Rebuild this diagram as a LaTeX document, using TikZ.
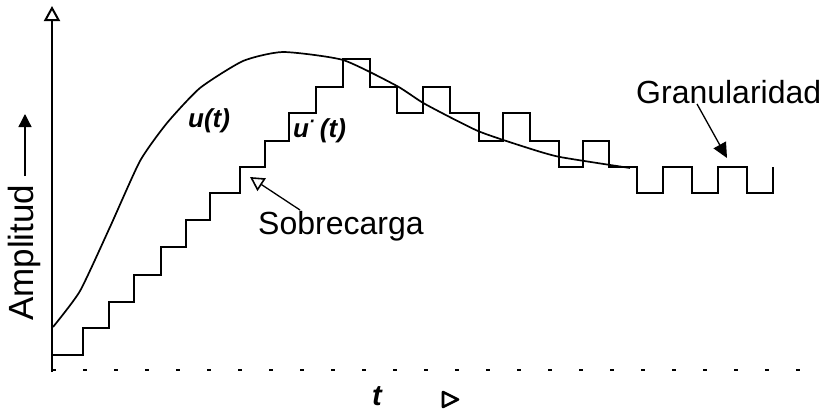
\documentclass[tikz,border=0pt]{standalone}
\usepackage{fontspec}
\setmainfont{Liberation Sans}
\usetikzlibrary{arrows.meta}
\begin{document}
\begin{tikzpicture}[x=1pt,y=-1pt,
  lbl/.style={inner sep=0pt, font=\fontsize{32}{36}\selectfont},
  sym/.style={inner sep=0pt, font=\fontsize{26}{28}\selectfont\bfseries\itshape},
  axisline/.style={line width=2pt},
  stair/.style={line width=1.5pt, line join=miter},
  curve/.style={line width=1.7pt},
  pointer/.style={line width=1.3pt}]
\useasboundingbox (0,0) rectangle (834,410);
% axes
\coordinate (orig) at (52,372);
\coordinate (ytop) at (52,6);
\coordinate (xend) at (812,370);
\draw[axisline,-{Triangle[open,width=16pt,length=15pt,line width=2pt]}] (orig) -- (ytop);
\draw[line width=1.3pt, dash pattern=on 4pt off 27pt] (52,370) -- (xend);
% x axis arrow head
\draw[line width=2.6pt, line join=round] (443,392) -- (458,399.5) -- (443,407) -- cycle;
% staircase
\draw[stair] (53,355) -- (83,355) -- (83,328) -- (109,328) -- (109,302) -- (134,302) -- (134,275)
 -- (161,275) -- (161,247) -- (186,247) -- (186,220) -- (210,220) -- (210,193) -- (240,193)
 -- (240,167) -- (265,167) -- (265,141) -- (289,141) -- (289,113) -- (316,113) -- (316,87)
 -- (343,87) -- (343,59) -- (370,59) -- (370,87) -- (397,87) -- (397,113) -- (423,113)
 -- (423,87) -- (450,87) -- (450,113) -- (479,113) -- (479,141) -- (503,141) -- (503,113)
 -- (530,113) -- (530,141) -- (559,141) -- (559,167) -- (583,167) -- (583,141) -- (609,141)
 -- (609,167) -- (637,167) -- (637,193) -- (663,193) -- (663,167) -- (692,167) -- (692,193)
 -- (718,193) -- (718,167) -- (747,167) -- (747,193) -- (773,193) -- (773,167);
% curve u(t)
\draw[curve] plot[smooth, tension=0.35] coordinates {(53,327) (80,291) (110,227) (140,161) (167,123) (200,88) (243,61) (283,52) (343,60) (397,86) (425,104) (478,131) (528,148) (560,157) (630,168)};
% labels
\node[sym, anchor=base west] (ut) at (188,127) {u(t)};
\node[sym, anchor=base west] (uq) at (293,137) {u\textsuperscript{·}\,(t)};
\node[lbl, anchor=base west] (sob) at (258,234) {Sobrecarga};
\node[lbl, anchor=base west] (gran) at (636,103) {Granularidad};
\node[lbl, anchor=base west, rotate=90, font=\fontsize{35}{38}\selectfont] (amp) at (33,321) {Amplitud};
\node[inner sep=0pt, anchor=base, font=\fontsize{29}{30}\selectfont\bfseries\itshape] (tl) at (377,405) {t};
% pointers
\coordinate (sobTail) at (300,210);
\coordinate (sobTip) at (250,177);
\draw[pointer,-{Triangle[open,width=15pt,length=14pt,line width=1.6pt]}] (sobTail) -- (sobTip);
\coordinate (granTail) at (697,104);
\coordinate (granTip) at (727,158);
\draw[pointer,-{Triangle[width=14pt,length=15pt]}] (granTail) -- (granTip);
\coordinate (ampTail) at (25,176);
\coordinate (ampTip) at (25,114);
\draw[pointer,-{Triangle[width=13pt,length=13pt]}] (ampTail) -- (ampTip);
\end{tikzpicture}
\end{document}
